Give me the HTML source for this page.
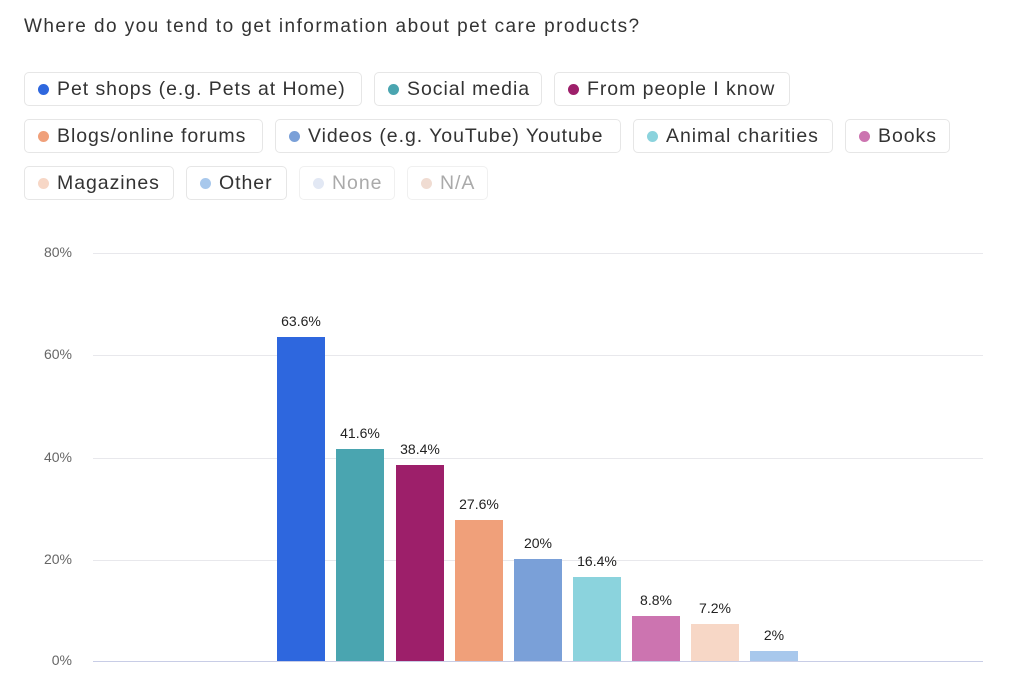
<!DOCTYPE html><html><head><style>
body{margin:0;width:1024px;height:693px;background:#fff;font-family:"Liberation Sans",sans-serif;position:relative;overflow:hidden}
.t{position:absolute;left:24px;top:16px;font-size:19px;color:#333;letter-spacing:1.45px}
.p{position:absolute;border:1px solid #e6e6e6;border-radius:5px;box-sizing:border-box;height:34px;font-size:19.5px;color:#333;line-height:32px;padding-left:32px;white-space:nowrap;letter-spacing:0.95px}
.p i{position:absolute;left:13px;top:11px;width:11px;height:11px;border-radius:50%}
.g{position:absolute;left:93px;width:890px;height:1px;background:#e8e8ec}
.y{position:absolute;left:20px;width:52px;text-align:right;font-size:14px;color:#666}
.b{position:absolute;width:48px;bottom:32px}
.l{position:absolute;width:60px;text-align:center;font-size:14px;color:#222}
</style></head><body>
<div class="t">Where do you tend to get information about pet care products?</div>
<div class="p" style="left:24px;top:72px;width:338px"><i style="background:#2e67de"></i>Pet shops (e.g. Pets at Home)</div>
<div class="p" style="left:374px;top:72px;width:168px"><i style="background:#4aa5b0"></i>Social media</div>
<div class="p" style="left:554px;top:72px;width:236px"><i style="background:#9d1f6a"></i>From people I know</div>
<div class="p" style="left:24px;top:119px;width:239px"><i style="background:#f0a07a"></i>Blogs/online forums</div>
<div class="p" style="left:275px;top:119px;width:346px"><i style="background:#7aa0d8"></i>Videos (e.g. YouTube) Youtube</div>
<div class="p" style="left:633px;top:119px;width:200px"><i style="background:#8bd3dd"></i>Animal charities</div>
<div class="p" style="left:845px;top:119px;width:105px"><i style="background:#cc74b0"></i>Books</div>
<div class="p" style="left:24px;top:166px;width:150px"><i style="background:#f7d7c6"></i>Magazines</div>
<div class="p" style="left:186px;top:166px;width:101px"><i style="background:#a8c8ec"></i>Other</div>
<div class="p" style="left:299px;top:166px;width:96px;color:#aaa;border-color:#f0f0f0"><i style="background:#e2e8f4"></i>None</div>
<div class="p" style="left:407px;top:166px;width:81px;color:#aaa;border-color:#f0f0f0"><i style="background:#f0dcd2"></i>N/A</div>
<div class="g" style="top:253px"></div><div class="g" style="top:355px"></div><div class="g" style="top:458px"></div><div class="g" style="top:560px"></div><div class="g" style="top:661px;background:#c8cde6"></div>
<div class="y" style="top:244px">80%</div><div class="y" style="top:346px">60%</div><div class="y" style="top:449px">40%</div><div class="y" style="top:551px">20%</div><div class="y" style="top:652px">0%</div>
<div class="b" style="left:277px;height:324px;background:#2e67de"></div><div class="l" style="left:271px;top:313px">63.6%</div>
<div class="b" style="left:336px;height:212px;background:#4aa5b0"></div><div class="l" style="left:330px;top:425px">41.6%</div>
<div class="b" style="left:396px;height:196px;background:#9d1f6a"></div><div class="l" style="left:390px;top:441px">38.4%</div>
<div class="b" style="left:455px;height:141px;background:#f0a07a"></div><div class="l" style="left:449px;top:496px">27.6%</div>
<div class="b" style="left:514px;height:102px;background:#7aa0d8"></div><div class="l" style="left:508px;top:535px">20%</div>
<div class="b" style="left:573px;height:84px;background:#8bd3dd"></div><div class="l" style="left:567px;top:553px">16.4%</div>
<div class="b" style="left:632px;height:45px;background:#cc74b0"></div><div class="l" style="left:626px;top:592px">8.8%</div>
<div class="b" style="left:691px;height:37px;background:#f7d7c6"></div><div class="l" style="left:685px;top:600px">7.2%</div>
<div class="b" style="left:750px;height:10px;background:#a8c8ec"></div><div class="l" style="left:744px;top:627px">2%</div>
</body></html>
